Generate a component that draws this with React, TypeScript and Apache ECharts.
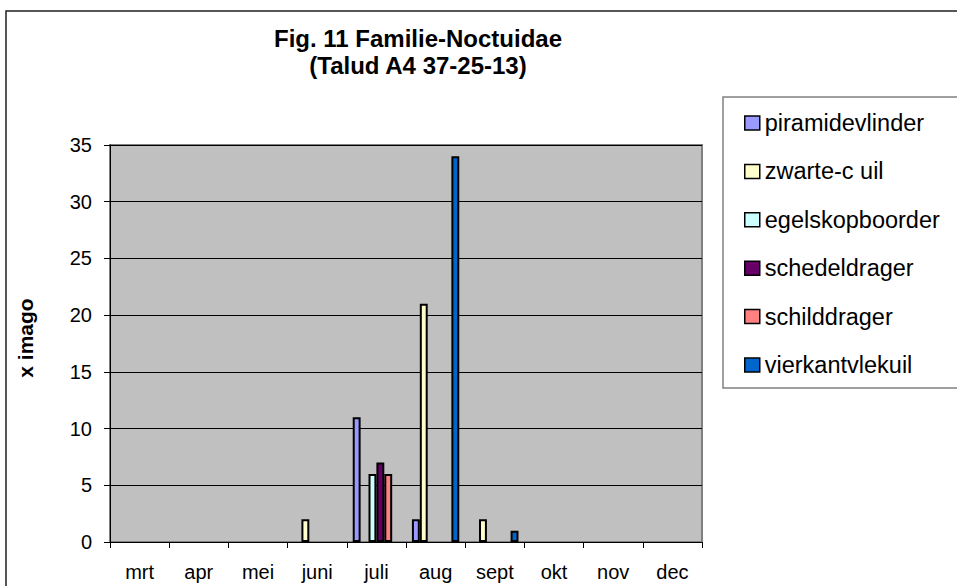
import React, { useEffect, useRef } from "react";
import * as echarts from "echarts";

const months = ["mrt", "apr", "mei", "juni", "juli", "aug", "sept", "okt", "nov", "dec"];
const seriesNames = ["piramidevlinder", "zwarte-c uil", "egelskopboorder", "schedeldrager", "schilddrager", "vierkantvlekuil"];
const piramidevlinder = [0, 0, 0, 0, 11, 2, 0, 0, 0, 0];
const zwarteCUil = [0, 0, 0, 2, 0, 21, 2, 0, 0, 0];
const egelskopboorder = [0, 0, 0, 0, 6, 0, 0, 0, 0, 0];
const schedeldrager = [0, 0, 0, 0, 7, 0, 0, 0, 0, 0];
const schilddrager = [0, 0, 0, 0, 6, 0, 0, 0, 0, 0];
const vierkantvlekuil = [0, 0, 0, 0, 0, 34, 1, 0, 0, 0];
const seriesValues = [piramidevlinder, zwarteCUil, egelskopboorder, schedeldrager, schilddrager, vierkantvlekuil];
const colors = ["#9999FF", "#FFFFCC", "#CCFFFF", "#660066", "#FF8080", "#0066CC"];
const titleLines = ["Fig. 11 Familie-Noctuidae", "(Talud A4 37-25-13)"];
const yAxisTitle = "x imago";

const FONT = "Arial, 'Liberation Sans', sans-serif";

export default function App() {
  const ref = useRef<HTMLDivElement>(null);
  useEffect(() => {
    if (!ref.current) return;
    const chart = echarts.init(ref.current, undefined, { renderer: "svg" });
    chart.setOption({
      animation: false,
      backgroundColor: "#ffffff",
      grid: {
        left: 110,
        right: 255,
        top: 145,
        bottom: 44,
        show: true,
        backgroundColor: "#C0C0C0",
        borderColor: "#808080",
        borderWidth: 2,
      },
      legend: {
        orient: "vertical",
        left: 744,
        top: 111,
        padding: 0,
        icon: "rect",
        itemWidth: 15,
        itemHeight: 14,
        itemGap: 24.4,
        symbolKeepAspect: false,
        data: seriesNames,
        textStyle: { fontFamily: FONT, fontSize: 23.5, color: "#000", lineHeight: 24, padding: [0, 0, 0, 0] },
        itemStyle: { borderColor: "#000", borderWidth: 1.5 },
      },
      xAxis: {
        type: "category",
        data: months,
        axisLine: { lineStyle: { color: "#000", width: 1 } },
        axisTick: { show: true, length: 6, alignWithLabel: false, lineStyle: { color: "#000" } },
        axisLabel: { fontFamily: FONT, fontSize: 20, color: "#000", margin: 20 },
        splitLine: { show: false },
      },
      yAxis: {
        type: "value",
        min: 0,
        max: 35,
        interval: 5,
        axisLine: { show: true, lineStyle: { color: "#000", width: 1 } },
        axisTick: { show: true, length: 6, lineStyle: { color: "#000" } },
        axisLabel: { fontFamily: FONT, fontSize: 20, color: "#000", margin: 18 },
        splitLine: { show: true, lineStyle: { color: "#000", width: 1 } },
      },
      series: seriesNames.map((name, i) => ({
        name,
        type: "bar",
        data: seriesValues[i].map((v) => (v === 0 ? null : v)),
        barGap: "0%",
        barCategoryGap: "20%",
        itemStyle: { color: colors[i], borderColor: "#000", borderWidth: 2 },
      })),
      graphic: [
        {
          type: "rect",
          shape: { x: 6, y: 11, width: 960, height: 600 },
          style: { fill: "none", stroke: "#202020", lineWidth: 1.5 },
          silent: true,
        },
        {
          type: "rect",
          shape: { x: 723, y: 97, width: 260, height: 291 },
          style: { fill: "none", stroke: "#808080", lineWidth: 1.5 },
          silent: true,
        },
        {
          type: "text",
          x: 418,
          y: 38,
          style: { text: titleLines[0], font: `bold 24px ${FONT}`, fill: "#000", textAlign: "center", textVerticalAlign: "middle" },
        },
        {
          type: "text",
          x: 418,
          y: 65,
          style: { text: titleLines[1], font: `bold 24px ${FONT}`, fill: "#000", textAlign: "center", textVerticalAlign: "middle" },
        },
        {
          type: "text",
          x: 25,
          y: 338,
          rotation: Math.PI / 2,
          style: { text: yAxisTitle, font: `bold 21px ${FONT}`, fill: "#000", textAlign: "center", textVerticalAlign: "middle" },
        },
      ],
    });
    return () => chart.dispose();
  }, []);
  return <div ref={ref} style={{ width: 957, height: 586, position: "absolute", left: 0, top: 0 }} />;
}
